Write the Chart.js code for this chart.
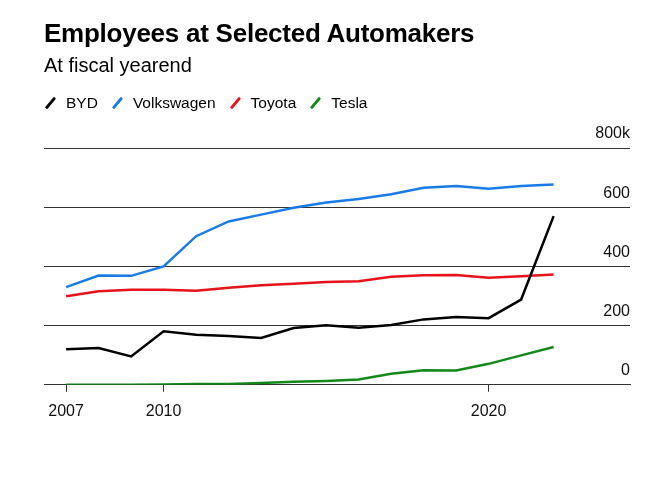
<!DOCTYPE html>
<html lang="en">

<head>
  <meta charset="UTF-8" />
  <title>Employees at Selected Automakers</title>
  <script src="https://cdn.jsdelivr.net/npm/chart.js"></script>
  <style>
    * {
      box-sizing: border-box;
    }

    body {
      margin: 0;
      width: 671px;
      height: 490px;
      background: #fff;
      font-family: 'Liberation Sans', Arial, sans-serif;
      color: #000;
      position: relative;
      overflow: hidden;
    }

    .wrap {
      position: absolute;
      left: 0;
      top: 0;
      width: 671px;
      height: 490px;
    }

    h1 {
      position: absolute;
      left: 44px;
      top: 18px;
      margin: 0;
      font-size: 26px;
      font-weight: bold;
      letter-spacing: -0.25px;
      z-index: 2;
    }

    .sub {
      position: absolute;
      left: 44px;
      top: 54px;
      font-size: 20px;
      z-index: 2;
    }

    .legend {
      position: absolute;
      left: 45px;
      top: 94px;
      font-size: 15.5px;
      display: flex;
      align-items: center;
      z-index: 2;
    }

    .legend .item {
      display: flex;
      align-items: center;
      margin-right: 14px;
    }

    .legend .icon {
      display: inline-block;
      width: 3px;
      height: 14px;
      margin: 0 14px 0 4px;
      transform: rotate(40deg);
      border-radius: 1px;
    }

    canvas {
      position: absolute;
      left: 0;
      top: 0;
    }
  </style>
</head>

<body>
  <div class="wrap">
    <h1>Employees at Selected Automakers</h1>
    <div class="sub">At fiscal yearend</div>
    <div class="legend" id="legend"></div>
    <canvas id="empChart" width="671" height="490"></canvas>
  </div>

  <script>
    // employees at fiscal yearend, thousands
    const years = [2007, 2008, 2009, 2010, 2011, 2012, 2013, 2014, 2015, 2016, 2017, 2018, 2019, 2020, 2021, 2022];
    const byd = [120, 124, 96, 181, 169, 165, 158, 192, 201, 193, 202, 221, 229, 225, 288, 570];
    const volkswagen = [330, 369, 368, 400, 502, 552, 575, 598, 616, 628, 644, 666, 672, 662, 672, 677];
    const toyota = [299, 316, 321, 321, 318, 328, 336, 341, 347, 350, 365, 370, 371, 362, 367, 373];
    const tesla = [0.3, 0.3, 0.5, 0.9, 2.9, 3, 5.9, 10.2, 13.1, 17.8, 37.5, 48.8, 48, 70.8, 99.3, 127.9];
    const xTicks = [2007, 2010, 2020];
    const yTicks = [0, 200, 400, 600, 800];

    const series = [
      { label: 'BYD', values: byd, color: '#000000' },
      { label: 'Volkswagen', values: volkswagen, color: '#1a7be8' },
      { label: 'Toyota', values: toyota, color: '#e8121c' },
      { label: 'Tesla', values: tesla, color: '#12891a' }
    ];

    // html legend with slanted line keys
    const legend = document.getElementById('legend');
    series.forEach(s => {
      const item = document.createElement('span');
      item.className = 'item';
      item.innerHTML = '<span class="icon" style="background:' + s.color + '"></span>' + s.label;
      legend.appendChild(item);
    });

    const ctx = document.getElementById('empChart').getContext('2d');

    new Chart(ctx, {
      type: 'line',
      data: {
        datasets: series.map(s => ({
          label: s.label,
          data: years.map((yr, i) => ({ x: yr, y: s.values[i] })),
          borderColor: s.color,
          backgroundColor: s.color,
          borderWidth: 2.5,
          pointRadius: 0,
          tension: 0,
          fill: false
        }))
      },
      options: {
        responsive: false,
        animation: false,
        layout: {
          padding: { left: 44, right: 41, top: 148, bottom: 59 }
        },
        plugins: {
          legend: { display: false },
          title: { display: false },
          tooltip: { enabled: false }
        },
        scales: {
          x: {
            type: 'linear',
            min: 2006.32,
            max: 2024.35,
            afterBuildTicks: axis => {
              axis.ticks = xTicks.map(v => ({ value: v }));
            },
            grid: {
              drawOnChartArea: false,
              drawTicks: true,
              tickLength: 7,
              color: '#333'
            },
            border: { display: true, color: '#333', width: 1 },
            ticks: {
              padding: 10,
              maxRotation: 0,
              color: '#111',
              font: { family: "'Liberation Sans', Arial, sans-serif", size: 16 },
              callback: v => String(v)
            }
          },
          y: {
            position: 'right',
            min: 0,
            max: 800,
            afterBuildTicks: axis => {
              axis.ticks = yTicks.map(v => ({ value: v }));
            },
            grid: {
              drawTicks: false,
              color: '#333',
              lineWidth: 1
            },
            border: { display: false },
            ticks: {
              mirror: true,
              padding: 0,
              labelOffset: -14,
              color: '#111',
              font: { family: "'Liberation Sans', Arial, sans-serif", size: 16 },
              callback: v => v === 800 ? '800k' : String(v)
            }
          }
        }
      }
    });
  </script>
</body>

</html>
